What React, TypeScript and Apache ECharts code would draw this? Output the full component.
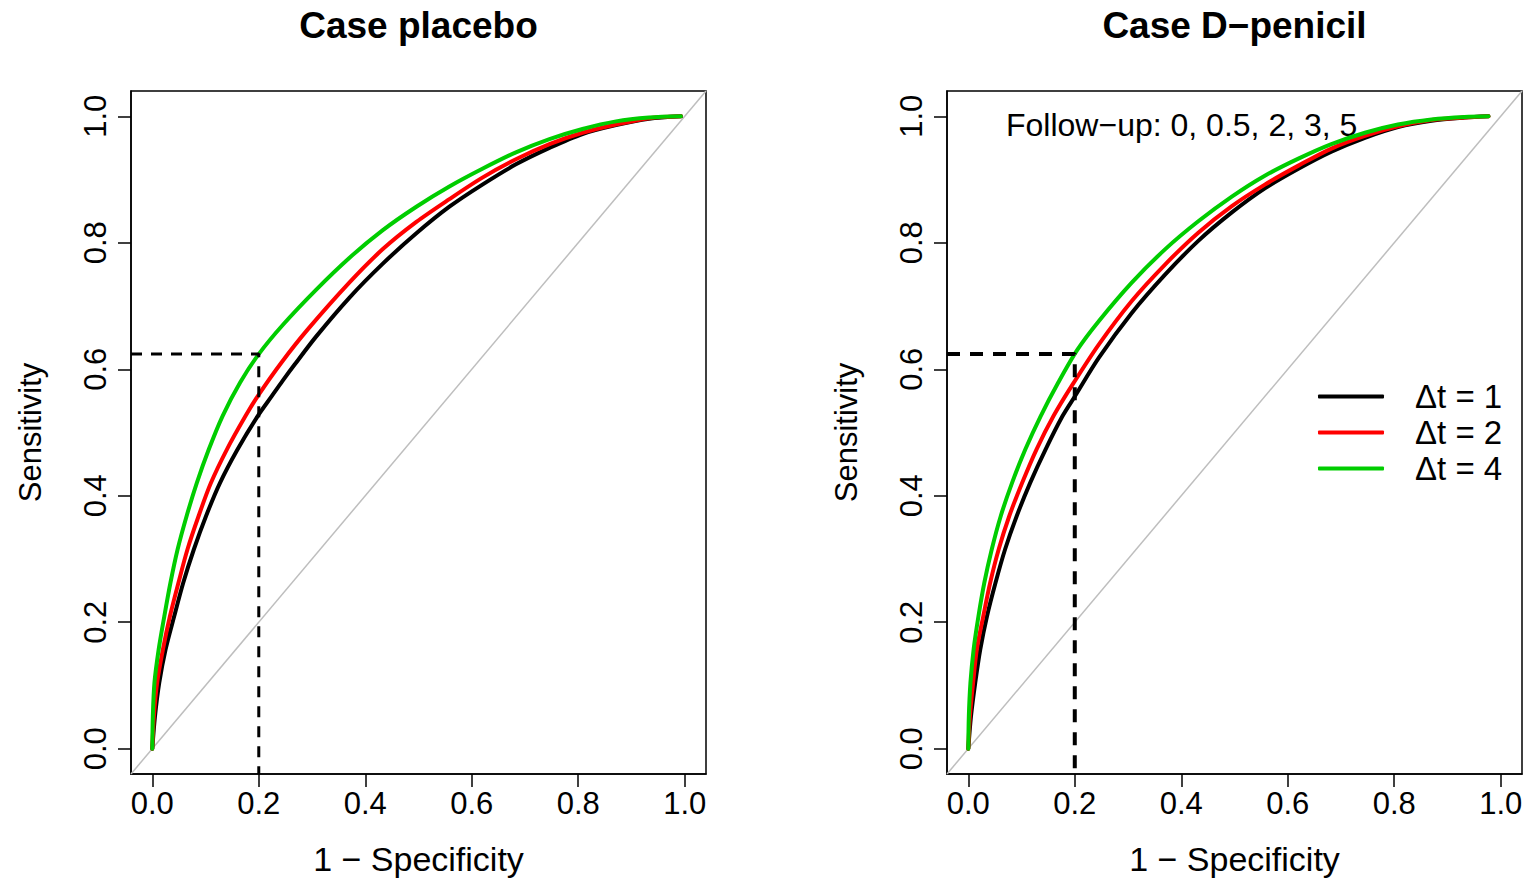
import React, { useEffect, useRef } from "react";
import * as echarts from "echarts";

const TICKS = [0, 0.2, 0.4, 0.6, 0.8, 1.0];
const AXIS_MIN = -0.04;
const AXIS_MAX = 1.04;
const SERIES_NAMES = ["Δt = 1", "Δt = 2", "Δt = 4"];
const COLORS = ["#000000", "#FF0000", "#00CD00"];
const PANEL_TITLES = ["Case placebo", "Case D−penicil"];
const FOLLOW_UP_TEXT = "Follow−up: 0, 0.5, 2, 3, 5";
const X_NAME = "1 − Specificity";
const Y_NAME = "Sensitivity";

// Case placebo
const placeboFpr1 = [0, 0.005, 0.013, 0.025, 0.041, 0.058, 0.078, 0.101, 0.127, 0.16, 0.198, 0.224, 0.245, 0.267, 0.308, 0.37, 0.433, 0.496, 0.558, 0.62, 0.683, 0.746, 0.808, 0.871, 0.933, 0.993];
const placeboTpr1 = [0, 0.051, 0.104, 0.157, 0.209, 0.262, 0.315, 0.368, 0.42, 0.473, 0.526, 0.557, 0.582, 0.607, 0.652, 0.713, 0.767, 0.815, 0.857, 0.892, 0.924, 0.95, 0.972, 0.986, 0.996, 1.0];
const placeboFpr2 = [0, 0.003, 0.009, 0.02, 0.033, 0.049, 0.066, 0.087, 0.11, 0.14, 0.175, 0.2, 0.242, 0.292, 0.37, 0.433, 0.496, 0.558, 0.62, 0.683, 0.746, 0.808, 0.871, 0.933, 0.993];
const placeboTpr2 = [0, 0.051, 0.104, 0.157, 0.209, 0.262, 0.315, 0.368, 0.42, 0.473, 0.526, 0.56, 0.61, 0.663, 0.737, 0.79, 0.833, 0.869, 0.903, 0.932, 0.956, 0.974, 0.987, 0.997, 1.0];
const placeboFpr4 = [0, 0.001, 0.004, 0.012, 0.0225, 0.034, 0.0475, 0.0645, 0.0835, 0.106, 0.132, 0.165, 0.2, 0.245, 0.308, 0.37, 0.433, 0.496, 0.558, 0.62, 0.683, 0.746, 0.808, 0.871, 0.933, 0.993];
const placeboTpr4 = [0, 0.051, 0.104, 0.157, 0.209, 0.262, 0.315, 0.368, 0.42, 0.473, 0.526, 0.579, 0.624, 0.67, 0.726, 0.776, 0.82, 0.857, 0.889, 0.917, 0.943, 0.964, 0.98, 0.992, 0.998, 1.0];

// Case D-penicil
const penicilFpr1 = [0, 0.005, 0.013, 0.0225, 0.035, 0.051, 0.069, 0.091, 0.116, 0.145, 0.177, 0.2, 0.245, 0.307, 0.37, 0.432, 0.495, 0.557, 0.62, 0.682, 0.745, 0.807, 0.87, 0.932, 0.977];
const penicilTpr1 = [0, 0.051, 0.104, 0.157, 0.209, 0.262, 0.315, 0.368, 0.42, 0.473, 0.526, 0.557, 0.618, 0.689, 0.75, 0.803, 0.848, 0.886, 0.917, 0.944, 0.966, 0.983, 0.993, 0.998, 1.0];
const penicilFpr2 = [0, 0.003, 0.009, 0.016, 0.028, 0.041, 0.057, 0.077, 0.101, 0.128, 0.16, 0.196, 0.245, 0.307, 0.37, 0.432, 0.495, 0.557, 0.62, 0.682, 0.745, 0.807, 0.87, 0.932, 0.977];
const penicilTpr2 = [0, 0.051, 0.104, 0.157, 0.209, 0.262, 0.315, 0.368, 0.42, 0.473, 0.526, 0.576, 0.639, 0.708, 0.766, 0.816, 0.858, 0.892, 0.922, 0.949, 0.969, 0.984, 0.994, 0.998, 1.0];
const penicilFpr4 = [0, 0.001, 0.004, 0.01, 0.019, 0.03, 0.044, 0.061, 0.082, 0.107, 0.136, 0.169, 0.205, 0.245, 0.307, 0.37, 0.432, 0.495, 0.557, 0.62, 0.682, 0.745, 0.807, 0.87, 0.932, 0.977];
const penicilTpr4 = [0, 0.051, 0.104, 0.157, 0.209, 0.262, 0.315, 0.368, 0.42, 0.473, 0.526, 0.579, 0.631, 0.676, 0.737, 0.79, 0.834, 0.873, 0.906, 0.933, 0.956, 0.974, 0.987, 0.995, 0.999, 1.0];

// cut-off marks (1 - specificity = 0.2)
const cutoffFpr = [0.2, 0.2];
const cutoffTpr = [0.624, 0.624];

const FONT = "'Liberation Sans', Arial, Helvetica, sans-serif";

const zip = (xs: number[], ys: number[]) => xs.map((x, i) => [x, ys[i]]);

export default function App() {
  const ref = useRef<HTMLDivElement>(null);
  useEffect(() => {
    if (!ref.current) return;
    const chart = echarts.init(ref.current, undefined, { renderer: "svg" });

    const panels = [
      { fprs: [placeboFpr1, placeboFpr2, placeboFpr4], tprs: [placeboTpr1, placeboTpr2, placeboTpr4] },
      { fprs: [penicilFpr1, penicilFpr2, penicilFpr4], tprs: [penicilTpr1, penicilTpr2, penicilTpr4] },
    ];
    const gridLefts = [131, 947];
    const dashWidths = [3, 4];
    const dashPatterns = [
      [11, 9],
      [13, 10],
    ];
    const grids = gridLefts.map((l) => ({
      left: l,
      top: 91,
      width: 575,
      height: 683,
      show: true,
      borderColor: "#000",
      borderWidth: 1.5,
      backgroundColor: "transparent",
    }));

    const tickStyle = { show: true, inside: false, length: 13, lineStyle: { color: "#000", width: 1.5 }, customValues: TICKS };
    const axisLineStyle = { show: true, onZero: false, lineStyle: { color: "#000", width: 1.5 } };
    const labelBase = {
      customValues: TICKS,
      formatter: (v: number) => v.toFixed(1),
      fontSize: 31,
      color: "#000",
      fontFamily: FONT,
    };

    const xAxes = [0, 1].map((i) => ({
      type: "value",
      gridIndex: i,
      position: "bottom",
      offset: 0,
      min: AXIS_MIN,
      max: AXIS_MAX,
      axisLine: axisLineStyle,
      splitLine: { show: false },
      axisTick: tickStyle,
      axisLabel: { ...labelBase, margin: 14 },
      name: X_NAME,
      nameLocation: "middle",
      nameGap: 68,
      nameTextStyle: { fontSize: 34, color: "#000", fontFamily: FONT },
    }));
    const yAxes = [0, 1].map((i) => ({
      type: "value",
      gridIndex: i,
      position: "left",
      offset: 0,
      min: AXIS_MIN,
      max: AXIS_MAX,
      axisLine: axisLineStyle,
      splitLine: { show: false },
      axisTick: tickStyle,
      axisLabel: { ...labelBase, rotate: 90, margin: 20 },
      name: Y_NAME,
      nameLocation: "middle",
      nameGap: 85,
      nameRotate: 90,
      nameTextStyle: { fontSize: 31, color: "#000", fontFamily: FONT },
    }));

    const series: any[] = [];
    panels.forEach((p, i) => {
      series.push({
        type: "line",
        xAxisIndex: i,
        yAxisIndex: i,
        data: [
          [AXIS_MIN, AXIS_MIN],
          [AXIS_MAX, AXIS_MAX],
        ],
        showSymbol: false,
        silent: true,
        lineStyle: { color: "#BEBEBE", width: 1.5 },
      });
      p.fprs.forEach((fpr, k) => {
        series.push({
          type: "line",
          name: SERIES_NAMES[k],
          xAxisIndex: i,
          yAxisIndex: i,
          data: zip(fpr, p.tprs[k]),
          showSymbol: false,
          smooth: 0.3,
          color: COLORS[k],
          lineStyle: { color: COLORS[k], width: 4, cap: "round", join: "round" },
        });
      });
      series.push({
        type: "line",
        xAxisIndex: i,
        yAxisIndex: i,
        data: [
          [AXIS_MIN, cutoffTpr[i]],
          [cutoffFpr[i], cutoffTpr[i]],
          [cutoffFpr[i], AXIS_MIN],
        ],
        showSymbol: false,
        silent: true,
        lineStyle: { color: "#000", width: dashWidths[i], type: dashPatterns[i] },
      });
    });

    chart.setOption({
      animation: false,
      backgroundColor: "#fff",
      grid: grids,
      xAxis: xAxes,
      yAxis: yAxes,
      legend: {
        data: SERIES_NAMES,
        left: 1318,
        top: 380,
        padding: 0,
        orient: "vertical",
        icon: "roundRect",
        itemWidth: 66,
        itemHeight: 4,
        itemGap: 3,
        selectedMode: false,
        textStyle: { fontSize: 33, color: "#000", fontFamily: FONT, padding: [0, 0, 0, 26] },
      },
      graphic: [
        ...PANEL_TITLES.map((t, i) => ({
          type: "text",
          x: gridLefts[i] + 287.5,
          y: 25,
          style: { text: t, font: `bold 37px ${FONT}`, fill: "#000", align: "center", verticalAlign: "middle" },
        })),
        {
          type: "text",
          x: 1006,
          y: 125,
          style: { text: FOLLOW_UP_TEXT, font: `32px ${FONT}`, fill: "#000", align: "left", verticalAlign: "middle" },
        },
      ],
      series,
    });
    return () => chart.dispose();
  }, []);
  return <div ref={ref} style={{ position: "fixed", left: 0, top: 0, width: 1528, height: 883 }} />;
}
